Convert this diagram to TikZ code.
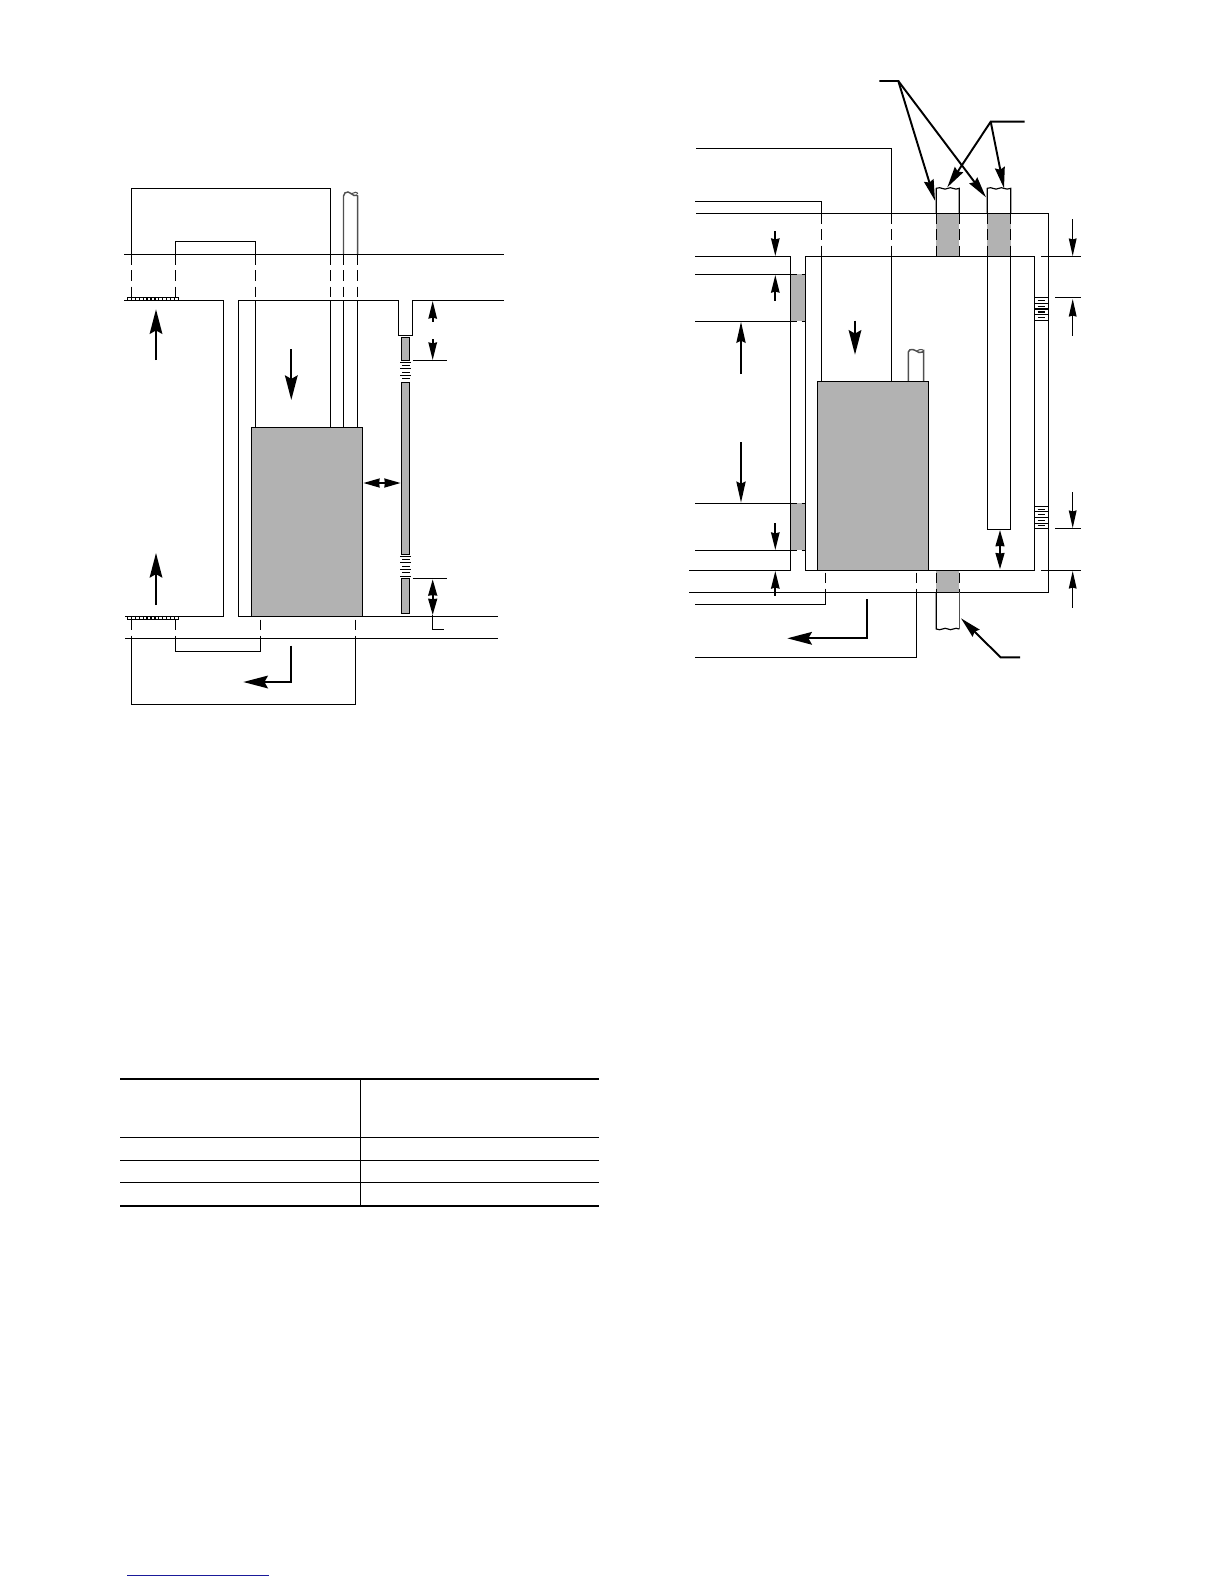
\documentclass[tikz,border=0pt]{standalone}
\usetikzlibrary{arrows.meta}
\definecolor{ductgray}{HTML}{B2B2B2}
\definecolor{pipeedge}{HTML}{505050}
\definecolor{linkblue}{HTML}{1A1A9A}
\tikzset{
  ln/.style={line width=0.33pt,black},
  dsh/.style={line width=0.33pt,black,dash pattern=on 3pt off 1.6pt},
  pipeln/.style={line width=0.42pt,pipeedge},
  grayln/.style={fill=ductgray,draw=black,line width=0.33pt},
  flow/.style={line width=0.6pt,black,-{Stealth[length=7pt,width=3.6pt,inset=1pt]}},
  flowdbl/.style={line width=0.6pt,black,{Stealth[length=4.6pt,width=2.5pt,inset=0.1pt]}-{Stealth[length=4.6pt,width=2.5pt,inset=0.1pt]}},
  dim/.style={line width=0.55pt,black,-{Stealth[length=5pt,width=2.4pt,inset=0.3pt]}},
  dimthin/.style={line width=0.33pt,black,-{Stealth[length=5pt,width=2.2pt,inset=0.3pt]}},
  call/.style={line width=0.55pt,black,-{Stealth[length=6pt,width=2.8pt,inset=0.6pt]}},
}
\begin{document}
\begin{tikzpicture}[x=0.01cm,y=-0.01cm]
\useasboundingbox (0,0) rectangle (1224,1584);
\fill[white] (0,0) rectangle (1224,1584);

% ---------- LEFT DIAGRAM ----------
% duct frames above roof
\draw[ln] (131.5,254.3) -- (131.5,188.4) -- (330.5,188.4) -- (330.5,254.3);
\draw[ln] (175.5,254.3) -- (175.5,241.4) -- (255.5,241.4) -- (255.5,254.3);
% pipe above
\draw[pipeln] (343.5,254.3) -- (343.5,196) .. controls (343.5,193) and (346,192) .. (348,192) .. controls (351,192) and (352,195.5) .. (354,195.5) .. controls (356,195.5) and (357.7,194.5) .. (357.7,196) -- (357.7,254.3);
\draw[line width=0.3pt,pipeedge] (352,193.5) .. controls (354,191.5) and (357.7,192) .. (357.7,194);
% roof and ceiling lines
\draw[ln] (124,254.3) -- (504,254.3);
\draw[ln] (124,300.3) -- (223.7,300.3) -- (223.7,616.4) -- (125,616.4);
\draw[ln] (504,300.3) -- (412.7,300.3) -- (412.7,335.3) -- (398.3,335.3) -- (398.3,300.3) -- (238.7,300.3) -- (238.7,616.4) -- (498,616.4);
\draw[ln] (125,638.3) -- (498,638.3);
% dashed through-plenum lines
\foreach \x in {255.5,330.5,343.5,357.7}{
  \draw[dsh] (\x,254.3) -- (\x,300.3);
  \draw[ln] (\x,300.3) -- (\x,427.4);
}
\foreach \x in {131.5,175.5}{
  \draw[dsh] (\x,254.3) -- (\x,297.3);
}
% filter grilles
\foreach \yt/\yb in {297.3/300.3,616.4/619.5}{
  \draw[line width=0.33pt,black] (127.3,\yt) rectangle (178.7,\yb);
  \foreach \i in {0,...,13}{
    \draw[line width=0.33pt,black] ({127.3+\i*3.95},\yt) -- ({127.3+\i*3.95},\yb);
  }
}
% unit
\draw[grayln] (251.3,427.4) rectangle (362.3,616.4);
% return frames below
\draw[dsh] (131.5,619.5) -- (131.5,638.3);
\draw[dsh] (175.5,619.5) -- (175.5,638.3);
\draw[dsh] (260.3,619.5) -- (260.3,638.3);
\draw[dsh] (355.3,619.5) -- (355.3,638.3);
\draw[ln] (131.5,638.3) -- (131.5,704.3) -- (355.3,704.3) -- (355.3,638.3);
\draw[ln] (175.5,638.3) -- (175.5,651.3) -- (260.3,651.3) -- (260.3,638.3);
% side strip with louvres
\draw[grayln] (401.3,337.3) rectangle (409.3,360.7);
\draw[grayln] (401.3,382.4) rectangle (409.3,554.7);
\draw[grayln] (401.3,578.3) rectangle (409.3,613.7);
\foreach \y in {362.5,368.7,375.5,556.4,562.7,569.3,576.4}{
  \draw[ln] (400,\y) -- (411.3,\y);
}
\foreach \y in {365.5,372.4,378.7,559.3,566.4,572.7}{
  \draw[ln] (402,\y) -- (409.5,\y);
}
% flow arrows
\draw[flow] (156,360) -- (156,309.3);
\draw[flow] (156,605) -- (156,553);
\draw[flow] (291.3,349) -- (291.3,400);
\draw[flow] (291.3,645.7) -- (291.3,682) -- (243.3,682);
\draw[flowdbl] (363.3,483) -- (400.7,483);
% dimensions
\draw[dim] (432.7,321.7) -- (432.7,301);
\draw[dim] (432.7,339.3) -- (432.7,360);
\draw[ln] (412.7,360.3) -- (446.7,360.3);
\draw[ln] (412.7,578.3) -- (446.7,578.3);
\draw[flowdbl] (432.7,579.3) -- (432.7,615);
\draw[ln] (432.7,615) -- (432.7,629.3) -- (444,629.3);

% ---------- RIGHT DIAGRAM ----------
% gray duct collars
\fill[ductgray] (936.3,213.3) rectangle (959.3,256.3);
\fill[ductgray] (987.3,213.3) rectangle (1010.7,256.3);
\fill[ductgray] (936.3,570.3) rectangle (959.3,592.3);
\fill[ductgray] (790.3,274.3) rectangle (805.3,321.3);
\fill[ductgray] (790.3,503.3) rectangle (805.3,550.3);
% pipes top
\draw[ln] (936.3,213.3) -- (936.3,188.3) .. controls (941,186) and (944,191) .. (948,188.3) .. controls (951,186) and (955,191) .. (959.3,188.3) -- (959.3,213.3);
\draw[ln] (987.3,213.3) -- (987.3,188.3) .. controls (992,186) and (995,191) .. (999,188.3) .. controls (1002,186) and (1006,191) .. (1010.7,188.3) -- (1010.7,213.3);
\foreach \x in {936.3,959.3,987.3,1010.7}{
  \draw[dsh] (\x,213.3) -- (\x,256.3);
}
% exterior and interior rooms
\draw[ln] (696,213.3) -- (1048.3,213.3) -- (1048.3,592.3) -- (689,592.3);
\draw[ln] (695,256.3) -- (790.3,256.3) -- (790.3,570.3) -- (689,570.3);
\draw[ln] (805.3,256.3) rectangle (1034.3,570.3);
% right pipe
\draw[ln] (987.3,256.3) -- (987.3,529.3) -- (1010.7,529.3) -- (1010.7,256.3);
% ducts to unit
\draw[ln] (695,201.3) -- (821.3,201.3) -- (821.3,213.3);
\draw[dsh] (821.3,213.3) -- (821.3,256.3);
\draw[ln] (821.3,256.3) -- (821.3,381.3);
\draw[ln] (696,148.3) -- (891.3,148.3) -- (891.3,213.3);
\draw[dsh] (891.3,213.3) -- (891.3,256.3);
\draw[ln] (891.3,256.3) -- (891.3,381.3);
% side-wall grille lines
\foreach \y in {274.3,321.3,503.3,550.3}{
  \draw[ln] (695,\y) -- (790.3,\y);
  \draw[line width=0.33pt,black,dash pattern=on 2pt off 1.2pt] (790.3,\y) -- (805.3,\y);
}
% small pipe
\draw[pipeln] (908.3,381.3) -- (908.3,352) .. controls (908.3,349.5) and (911,349.5) .. (913,349.5) .. controls (916,349.5) and (917,352.5) .. (919,352.5) .. controls (921,352.5) and (923.7,352) .. (923.7,351) -- (923.7,381.3);
\draw[line width=0.3pt,pipeedge] (917,351) .. controls (919,349) and (923.7,349) .. (923.7,351);
% unit
\draw[grayln] (817.3,381.3) rectangle (928.3,570.3);
% below-floor lines
\draw[dsh] (825.3,572.5) -- (825.3,592.3);
\draw[dsh] (916.3,572.5) -- (916.3,592.3);
\draw[ln] (825.3,592.3) -- (825.3,604.3) -- (695,604.3);
\draw[ln] (916.3,592.3) -- (916.3,657.4) -- (695,657.4);
\draw[dsh] (936.3,572.5) -- (936.3,592.3);
\draw[dsh] (959.3,572.5) -- (959.3,592.3);
% bottom pipe
\draw[ln] (936.3,592.3) -- (936.3,629) .. controls (941,631.5) and (944,626.5) .. (948,629) .. controls (951,631.5) and (955,626.5) .. (959.3,629);
\draw[pipeln] (959.3,592.3) -- (959.3,629);
% right louvres
\foreach \yt/\yb in {297.3/320.7,506.3/528.7}{
  \draw[ln] (1034.3,\yt) rectangle (1048.3,\yb);
  \foreach \i in {1,2,3}{
    \draw[ln] (1034.3,{\yt+(\yb-\yt)*\i/4}) -- (1048.3,{\yt+(\yb-\yt)*\i/4});
  }
  \foreach \i in {1,3,5,7}{
    \draw[ln] (1037.5,{\yt+(\yb-\yt)*\i/8}) -- (1045,{\yt+(\yb-\yt)*\i/8});
  }
}
% right dimension leaders
\draw[ln] (1041,256.3) -- (1081,256.3);
\draw[ln] (1055,297.3) -- (1081,297.3);
\draw[ln] (1055,528.3) -- (1081,528.3);
\draw[ln] (1041,570.3) -- (1081,570.3);
\draw[dimthin] (1072.7,219) -- (1072.7,256);
\draw[dimthin] (1072.7,335.7) -- (1072.7,299);
\draw[dimthin] (1072.7,492) -- (1072.7,528);
\draw[dimthin] (1072.7,607.7) -- (1072.7,571);
% left dimensions
\draw[dim] (775.3,231.3) -- (775.3,256);
\draw[dim] (775.3,300.7) -- (775.3,275);
\draw[dim] (775.3,523.3) -- (775.3,550);
\draw[dim] (775.3,595.7) -- (775.3,571);
\draw[flow,-{Stealth[length=6pt,width=2.6pt,inset=0.6pt]}] (741,374) -- (741,321.7);
\draw[flow,-{Stealth[length=6pt,width=2.6pt,inset=0.6pt]}] (741,442) -- (741,502.7);
\draw[flowdbl] (1000,530) -- (1000,569.3);
% flows
\draw[flow] (855,320.7) -- (855,354.7);
\draw[flow] (866.7,599) -- (866.7,638.3) -- (787.3,638.3);
% callouts
\draw[call] (879.3,81) -- (898.3,81) -- (935,200.7);
\draw[call] (898.3,81) -- (986,197.3);
\draw[call] (1024.7,121.7) -- (990.7,121.7) -- (947.3,187.3);
\draw[call] (990.7,121.7) -- (1004,188.3);
\draw[call] (1020,657.4) -- (1000.7,657.4) -- (961,618.3);

% ---------- TABLE ----------
\draw[line width=0.4pt,black] (360.3,1079) -- (360.3,1205.7);
\draw[line width=0.62pt,black] (120,1079) -- (599,1079);
\draw[line width=0.33pt,black] (120,1137.3) -- (599,1137.3);
\draw[line width=0.33pt,black] (120,1160.4) -- (599,1160.4);
\draw[line width=0.33pt,black] (120,1182.3) -- (599,1182.3);
\draw[line width=0.62pt,black] (120,1205.7) -- (599,1205.7);

% ---------- LINK RULE ----------
\draw[line width=0.3pt,linkblue] (127.3,1575.3) -- (269,1575.3);
\end{tikzpicture}
\end{document}
